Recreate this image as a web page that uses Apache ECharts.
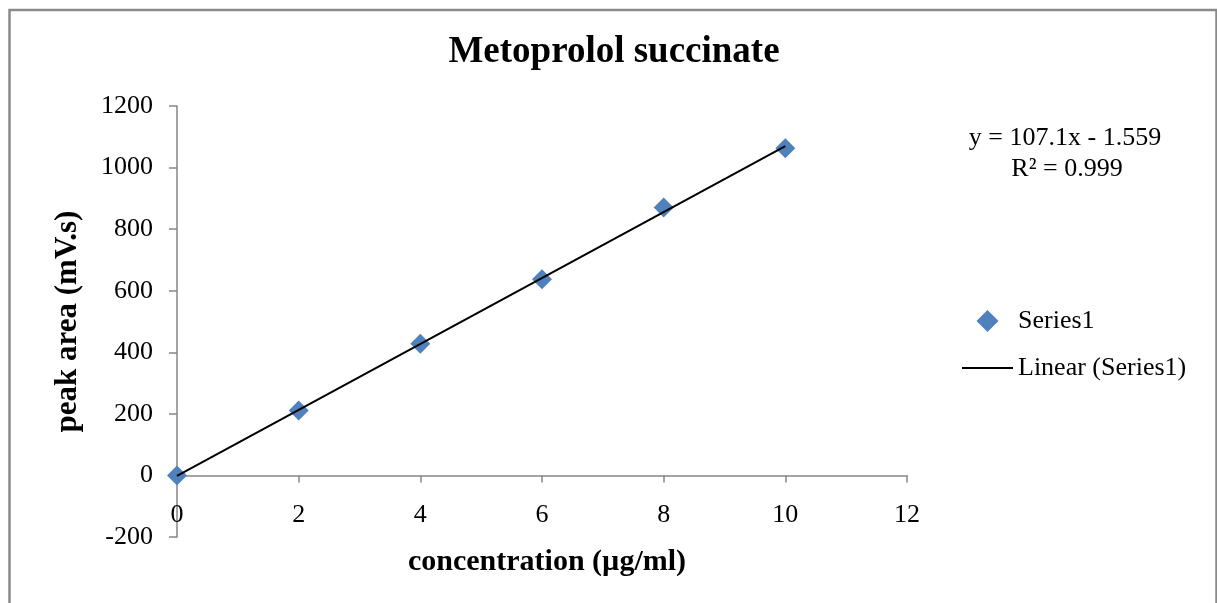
<!DOCTYPE html>
<html><head><meta charset="utf-8">
<script src="https://cdn.jsdelivr.net/npm/echarts@6/dist/echarts.min.js"></script>
<style>html,body{margin:0;padding:0;background:#fff}#c{width:1217px;height:603px}</style>
</head><body><div id="c"></div>
<script>
const concentration = [0, 2, 4, 6, 8, 10];
const peakArea = [0, 211, 428, 637, 870, 1063];
const trendX = [0, 10];
const trendY = [-1.559, 1069.441];
const equationLines = ['y = 107.1x - 1.559', 'R² = 0.999'];
const FONT = 'Liberation Serif';

const chart = echarts.init(document.getElementById('c'));
chart.setOption({
  backgroundColor: '#fff',
  animation: false,
  grid: { left: 177, right: 310, top: 106, bottom: 66, containLabel: false, outerBoundsMode: 'none' },
  legend: {
    orient: 'vertical', left: 962, top: 308, padding: 0, itemWidth: 51, itemHeight: 22, itemGap: 21,
    textStyle: { fontFamily: FONT, fontSize: 26, color: '#000' },
    data: [
      { name: 'Series1', icon: 'path://M0,-1L1,0L0,1L-1,0Z' },
      { name: 'Linear (Series1)', icon: 'path://M0,0h100v4h-100z', itemStyle: { color: '#000' } }
    ]
  },
  xAxis: {
    type: 'value', min: 0, max: 12, interval: 2,
    name: 'concentration (µg/ml)', nameLocation: 'middle', nameGap: 10,
    nameTextStyle: { fontFamily: FONT, fontSize: 30, fontWeight: 'bold', color: '#000', padding: [0, 0, 0, 10] },
    axisLine: { onZero: true, lineStyle: { color: '#868686', width: 1.5 } },
    axisTick: { show: true, inside: false, length: 7, lineStyle: { color: '#868686', width: 1.5 } },
    axisLabel: { fontFamily: FONT, fontSize: 26, color: '#000', margin: -35 },
    splitLine: { show: false }
  },
  yAxis: {
    type: 'value', min: -200, max: 1200, interval: 200,
    name: 'peak area (mV.s)', nameLocation: 'middle', nameGap: 94,
    nameTextStyle: { fontFamily: FONT, fontSize: 31, fontWeight: 'bold', color: '#000' },
    axisLine: { show: true, lineStyle: { color: '#868686', width: 1.5 } },
    axisTick: { show: true, inside: false, length: 8, lineStyle: { color: '#868686', width: 1.5 } },
    axisLabel: { fontFamily: FONT, fontSize: 26, color: '#000', margin: 24, formatter: v => String(v) },
    splitLine: { show: false }
  },
  series: [
    {
      name: 'Series1', type: 'scatter', symbol: 'diamond', symbolSize: 20,
      itemStyle: { color: '#4F81BD', opacity: 1 },
      data: concentration.map((x, i) => [x, peakArea[i]]), z: 2
    },
    {
      name: 'Linear (Series1)', type: 'line', symbol: 'none',
      itemStyle: { color: '#000' },
      lineStyle: { color: '#000', width: 2 },
      data: trendX.map((x, i) => [x, trendY[i]]), z: 3
    }
  ],
  graphic: [
    { type: 'rect', shape: { x: 9.5, y: 10, width: 1207, height: 640 },
      style: { fill: 'none', stroke: '#8a8a8a', lineWidth: 2.5 }, silent: true },
    { type: 'text', x: 614, y: 52, style: { text: 'Metoprolol succinate', fontFamily: FONT, fontSize: 37, fontWeight: 'bold', fill: '#000', textAlign: 'center', textVerticalAlign: 'middle' } },
    { type: 'text', x: 1065, y: 138, style: { text: equationLines[0], fontFamily: FONT, fontSize: 26, fill: '#000', textAlign: 'center', textVerticalAlign: 'middle' } },
    { type: 'text', x: 1067, y: 169, style: { text: equationLines[1], fontFamily: FONT, fontSize: 26, fill: '#000', textAlign: 'center', textVerticalAlign: 'middle' } }
  ]
});
</script></body></html>
